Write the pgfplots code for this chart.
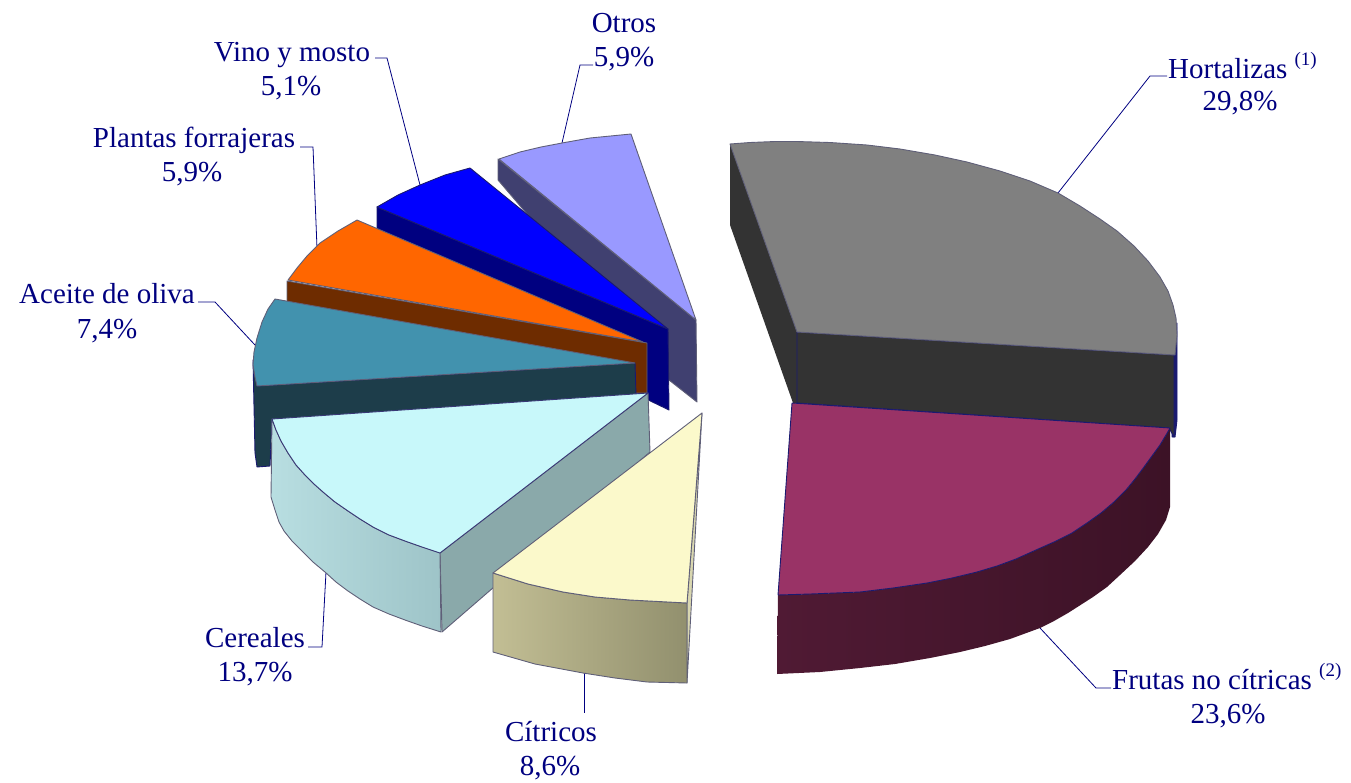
\documentclass[border=0pt]{standalone}
\usepackage{pgfplots}
\pgfplotsset{compat=1.18}
\usepackage{fontspec}
\setmainfont{Liberation Serif}
\definecolor{lab}{HTML}{000080}
\definecolor{edge}{HTML}{1A1A70}
\definecolor{edgeg}{HTML}{5F5F78}
\tikzset{lbl/.style={inner sep=0pt,text=lab,font=\fontsize{29}{32}\selectfont}}
\pgfplotsset{
 pie/.style={no markers,line width=0.9pt,line join=round},
 leader/.style={no markers,color=lab,line width=0.8pt},
}
\newcommand{\supr}[1]{\raisebox{0.42em}{\fontsize{19}{20}\selectfont #1}}
\begin{document}
\begin{tikzpicture}
\begin{axis}[scale only axis,width=1351pt,height=782pt,xmin=0,xmax=1351,ymin=0,ymax=782,y dir=reverse,axis lines=none,clip=false]
\addplot[draw=white,opacity=0,no markers,line width=0pt] coordinates {(0,0)(1351,0)(1351,782)(0,782)} -- cycle;
% leaders
\addplot[leader] coordinates {(1058,193)(1150,76)(1167,76)};
\addplot[leader] coordinates {(1040,628)(1096,688)(1111,688)};
\addplot[leader] coordinates {(584,673)(584,713)};
\addplot[leader] coordinates {(326,572)(322,647)(308,647)};
\addplot[leader] coordinates {(255,345)(215,302)(198,302)};
\addplot[leader] coordinates {(317,248)(313,147)(300,147)};
\addplot[leader] coordinates {(420,185)(387,58)(375,58)};
\addplot[leader] coordinates {(562,143)(580,65)(593,65)};
% Otros
\addplot[pie,draw=edgeg,fill={rgb,255:red,64;green,64;blue,112}] coordinates {(498,159)(696,320)(697,402)(669,380)(498,180)} -- cycle;
\addplot[pie,draw=edgeg,fill={rgb,255:red,153;green,153;blue,255}] coordinates {(499,159)(520,152)(541,147)(562,143)(590,138)(631,134)(696,320)} -- cycle;
% Vino
\addplot[pie,draw=edge,fill={rgb,255:red,0;green,0;blue,128}] coordinates {(377,207)(668,329)(669,410)(640,396)(377,228)} -- cycle;
\addplot[pie,draw=edge,fill={rgb,255:red,0;green,0;blue,255}] coordinates {(377,207)(398,195)(420,185)(445,175)(470,168)(668,329)} -- cycle;
% Plantas
\addplot[pie,draw=edgeg,fill={rgb,255:red,110;green,44;blue,0}] coordinates {(287,281)(647,343)(647,393)(636,393)(287,305)} -- cycle;
\addplot[pie,draw=edgeg,fill={rgb,255:red,255;green,102;blue,0}] coordinates {(288,280)(297,268)(307,256)(320,243)(338,231)(357,220)(643,342)} -- cycle;
% Aceite
\addplot[pie,draw=edge,fill={rgb,255:red,29;green,61;blue,74}] coordinates {(253,360)(257,386)(635,363)(636,395)(272,420)(270,466)(257,467)(255,453)} -- cycle;
\addplot[pie,draw=edgeg,fill={rgb,255:red,66;green,146;blue,174}] coordinates {(257,386)(255,377)(253,365)(254,352)(257,338)(262,322)(268,309)(275,299)(635,363)} -- cycle;
% Cereales
\addplot[pie,draw=edgeg,fill={rgb,255:red,138;green,169;blue,170}] coordinates {(440,553)(648,393)(650,452)(442,632)} -- cycle;
\addplot[pie,draw=edgeg,shade,left color={rgb,255:red,184;green,222;blue,225},right color={rgb,255:red,158;green,196;blue,200}] coordinates {(272,419)(276,430)(281,441)(288,453)(296,465)(305,475)(314,484)(323,492)(335,502)(348,511)(360,519)(373,527)(389,535)(405,541)(422,547)(440,553)(441,632)(422,626)(405,620)(389,614)(373,607)(360,599)(348,591)(336,582)(325,572)(313,562)(303,552)(292,541)(284,531)(279,522)(275,510)(271,497)} -- cycle;
\addplot[pie,draw=edge!70!gray,fill={rgb,255:red,200;green,248;blue,250}] coordinates {(648,393)(272,419)(276,430)(281,441)(288,453)(296,465)(305,475)(314,484)(323,492)(335,502)(348,511)(360,519)(373,527)(389,535)(405,541)(422,547)(440,553)} -- cycle;
% Citricos
\addplot[pie,draw=edgeg,fill={rgb,255:red,217;green,215;blue,176}] coordinates {(702,413)(687,683)(687,603)} -- cycle;
\addplot[pie,draw=edgeg,shade,left color={rgb,255:red,194;green,190;blue,148},right color={rgb,255:red,146;green,144;blue,110}] coordinates {(493,573)(528,584)(563,592)(595,597)(630,600)(687,603)(687,683)(647,682)(615,678)(583,673)(535,664)(493,652)} -- cycle;
\addplot[pie,draw=edgeg,fill={rgb,255:red,251;green,249;blue,203}] coordinates {(702,413)(493,573)(528,584)(563,592)(595,597)(630,600)(687,603)} -- cycle;
% Hortalizas
\addplot[pie,draw=none,fill={rgb,255:red,51;green,51;blue,51}] coordinates {(730,144)(797,332)(797,403)(793,403)(730,225)} -- cycle;
\addplot[pie,draw=edge,fill=edge] coordinates {(1177,323)(1177,420)(1175,437)(1172,437)(1172,355)} -- cycle;
\addplot[pie,draw=edge,fill={rgb,255:red,51;green,51;blue,51}] coordinates {(797,332)(1174,355)(1174,437)(1169,428)(797,403)} -- cycle;
\addplot[pie,draw=edgeg,fill={rgb,255:red,128;green,128;blue,128}] coordinates {(730,144)(750,142.5)(775,141.5)(797,141.5)(830,142.5)(867,145)(900,149)(935,155)(967,162)(1000,171)(1030,181)(1058,193)(1080,206)(1100,219)(1117,231)(1134,246)(1148,261)(1160,277)(1168,291)(1173,305)(1176,318)(1177,335)(1175,355)(797,332)} -- cycle;
% Frutas
\addplot[pie,draw=none,shade,left color={rgb,255:red,80;green,26;blue,52},right color={rgb,255:red,60;green,18;blue,38}] coordinates {(778,595)(810,594)(860,592)(893,588)(927,583)(952,578)(977,572)(997,566)(1016,559)(1036,550)(1054,542)(1072,533)(1087,523)(1101,513)(1114,502)(1126,490)(1135,479)(1144,467)(1152,456)(1160,445)(1166,435)(1170,428)(1170,507)(1166,520)(1158,534)(1148,547)(1135,561)(1120,575)(1107,587)(1093,597)(1068,613)(1054,621)(1040,628)(1010,639)(985,646)(960,652)(930,658)(895,664)(860,668)(820,672)(777,674)} -- cycle;
\addplot[pie,draw=edge,fill={rgb,255:red,153;green,51;blue,102}] coordinates {(792,403)(1170,428)(1166,435)(1160,445)(1152,456)(1144,467)(1135,479)(1126,490)(1114,502)(1101,513)(1087,523)(1072,533)(1054,542)(1036,550)(1016,559)(997,566)(977,572)(952,578)(927,583)(893,588)(860,592)(810,594)(778,595)} -- cycle;
% labels
\node[lbl,anchor=base west] at (axis cs:1168,78) {Hortalizas \supr{(1)}};
\node[lbl,anchor=base] at (axis cs:1240,110) {29,8\%};
\node[lbl,anchor=base west] at (axis cs:1112,689) {Frutas no cítricas \supr{(2)}};
\node[lbl,anchor=base] at (axis cs:1228,723) {23,6\%};
\node[lbl,anchor=base] at (axis cs:551,741) {Cítricos};
\node[lbl,anchor=base] at (axis cs:550,775) {8,6\%};
\node[lbl,anchor=base] at (axis cs:255,647) {Cereales};
\node[lbl,anchor=base] at (axis cs:255,681) {13,7\%};
\node[lbl,anchor=base] at (axis cs:107,303) {Aceite de oliva};
\node[lbl,anchor=base] at (axis cs:107,338) {7,4\%};
\node[lbl,anchor=base] at (axis cs:194,147) {Plantas forrajeras};
\node[lbl,anchor=base] at (axis cs:192,181) {5,9\%};
\node[lbl,anchor=base] at (axis cs:292,61) {Vino y mosto};
\node[lbl,anchor=base] at (axis cs:291,95) {5,1\%};
\node[lbl,anchor=base] at (axis cs:624,32) {Otros};
\node[lbl,anchor=base] at (axis cs:624,66) {5,9\%};
\end{axis}
\end{tikzpicture}
\end{document}
